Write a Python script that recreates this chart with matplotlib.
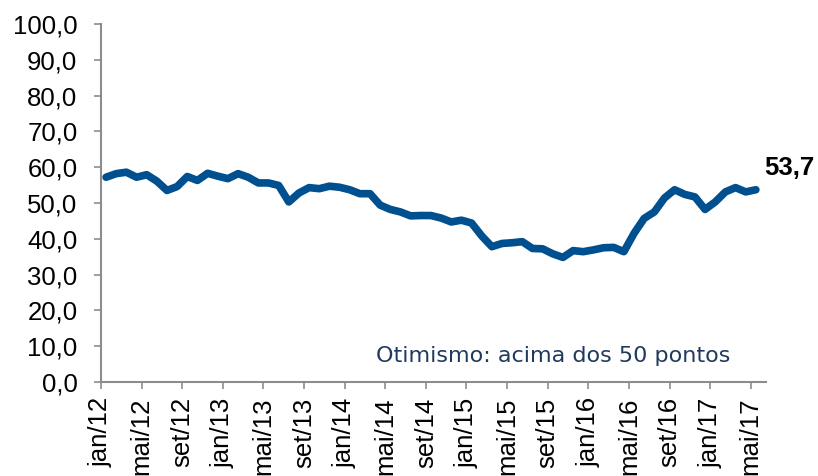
import matplotlib
matplotlib.use("Agg")
import matplotlib.pyplot as plt
import numpy as np

months = ["jan", "fev", "mar", "abr", "mai", "jun", "jul", "ago", "set", "out", "nov", "dez"]
categories = [f"{m}/{y}" for y in range(12, 18) for m in months][:65]

values = [57.2, 58.2, 58.6, 57.2, 57.9, 56.1, 53.5, 54.6, 57.4, 56.3, 58.3, 57.5,
          56.8, 58.2, 57.2, 55.6, 55.6, 54.9, 50.3, 52.8, 54.3, 54.0, 54.7, 54.4,
          53.7, 52.6, 52.6, 49.4, 48.2, 47.5, 46.4, 46.5, 46.5, 45.8, 44.7, 45.2,
          44.4, 40.8, 37.8, 38.7, 38.9, 39.2, 37.3, 37.2, 35.8, 34.8, 36.7, 36.4,
          36.9, 37.5, 37.6, 36.4, 41.5, 45.7, 47.5, 51.4, 53.7, 52.4, 51.7, 48.2,
          50.3, 53.1, 54.3, 53.1, 53.7]

yticks = list(range(0, 101, 10))
ytick_labels = [f"{v:.1f}".replace(".", ",") for v in yticks]
tick_idx = list(range(0, 65, 4))
xtick_labels = [categories[i] for i in tick_idx]
last_label = "53,7"
note = "Otimismo: acima dos 50 pontos"

fig = plt.figure(figsize=(8.18, 4.76), dpi=100)
ax = fig.add_axes([101/818, 1-382/476, (766-101)/818, (382-24)/476])

x = np.arange(len(values))
ax.plot(x, values, color="#00508F", lw=5.5, solid_joinstyle="round", solid_capstyle="round")

ax.set_xlim(-0.5, 65)
ax.set_ylim(0, 100)
ax.set_yticks(yticks)
ax.set_yticklabels(ytick_labels, fontsize=18.5, family="Liberation Sans")
ax.set_xticks([i - 0.5 for i in tick_idx])
ax.set_xticklabels(xtick_labels, rotation=90, fontsize=18.5, family="Liberation Sans")

for s in ["top", "right"]:
    ax.spines[s].set_visible(False)
for s in ["left", "bottom"]:
    ax.spines[s].set_color("#8C8C8C")
    ax.spines[s].set_linewidth(1.5)
ax.tick_params(axis="both", color="#8C8C8C", width=1.2, length=5, direction="out")
ax.tick_params(axis="y", pad=12)
ax.tick_params(axis="x", pad=6)

fig.text(764/818, 1-168/476, last_label, fontsize=18.5, fontweight="bold",
         family="Liberation Sans", va="center", ha="left")
fig.text(376/818, 1-356/476, note, fontsize=16, family="DejaVu Sans",
         color="#1F3A5F", va="center", ha="left")

fig.savefig("out.png", dpi=100)
